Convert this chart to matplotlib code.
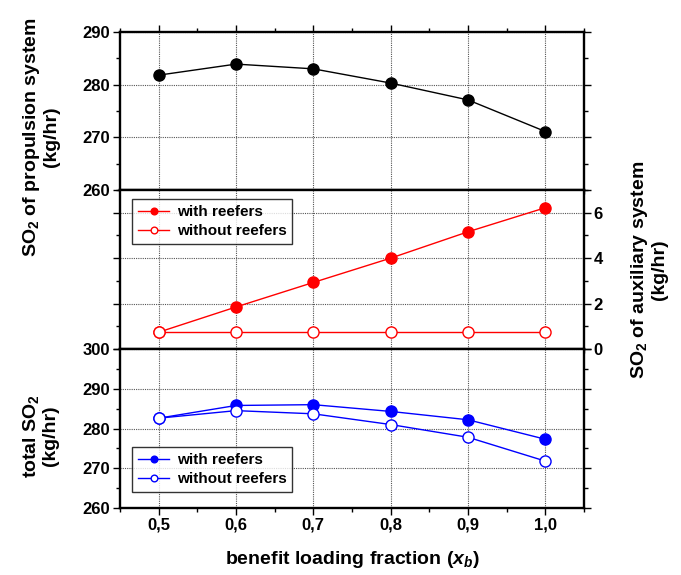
import matplotlib
matplotlib.use('Agg')
import matplotlib.pyplot as plt
from matplotlib.ticker import MultipleLocator

plt.rcParams['font.family'] = ['Liberation Sans', 'DejaVu Sans']
plt.rcParams['font.weight'] = 'bold'
plt.rcParams['mathtext.fontset'] = 'custom'
plt.rcParams['mathtext.rm'] = 'Liberation Sans:bold'
plt.rcParams['mathtext.it'] = 'Liberation Sans:bold:italic'
plt.rcParams['mathtext.bf'] = 'Liberation Sans:bold'

# data
xb = [0.5, 0.6, 0.7, 0.8, 0.9, 1.0]
xb_labels = ['0,5', '0,6', '0,7', '0,8', '0,9', '1,0']
so2_prop = [281.8, 283.9, 283.0, 280.3, 277.1, 271.1]
so2_aux_reef = [0.74, 1.85, 2.93, 4.0, 5.16, 6.22]
so2_aux_noreef = [0.74, 0.74, 0.74, 0.74, 0.74, 0.74]
so2_tot_reef = [282.6, 285.8, 286.0, 284.3, 282.2, 277.3]
so2_tot_noreef = [282.6, 284.5, 283.7, 281.0, 277.8, 271.8]

RED = '#ff0000'
BLUE = '#0000ff'


def style_axis(ax, ymaj, ymin):
    ax.set_xlim(0.45, 1.05)
    ax.set_xticks(xb)
    ax.xaxis.set_minor_locator(MultipleLocator(0.05))
    ax.yaxis.set_major_locator(MultipleLocator(ymaj))
    ax.yaxis.set_minor_locator(MultipleLocator(ymin))
    ax.grid(True, which='major', linestyle=(0, (1, 1)), color='#555555', linewidth=0.8)
    for s in ax.spines.values():
        s.set_linewidth(1.7)
    ax.tick_params(which='both', direction='out', labelsize=12, width=1.0, pad=2)
    ax.tick_params(which='major', length=5)
    ax.tick_params(which='minor', length=3)


def legend(ax, anchor):
    leg = ax.legend(loc='upper left', fontsize=11, fancybox=False, edgecolor='black',
                    handlelength=2.0, borderpad=0.4, labelspacing=0.3,
                    handletextpad=0.5, markerscale=0.6, bbox_to_anchor=anchor)
    leg.get_frame().set_linewidth(1.0)


fig = plt.figure(figsize=(6.81, 5.75), dpi=100)
ax1 = fig.add_axes([0.1762, 0.6696, 0.6814, 0.2748])
ax2 = fig.add_axes([0.1762, 0.3930, 0.6814, 0.2766])
ax3 = fig.add_axes([0.1762, 0.1165, 0.6814, 0.2765])

# propulsion
ax1.plot(xb, so2_prop, color='black', lw=1.0, marker='o', ms=8)
ax1.set_ylim(260, 290)
style_axis(ax1, 10, 5)
ax1.tick_params(which='both', labelbottom=False, top=True, right=True)

# auxiliary
ax2.plot(xb, so2_aux_reef, color=RED, lw=1.0, marker='o', ms=8, label='with reefers')
ax2.plot(xb, so2_aux_noreef, color=RED, lw=1.0, marker='o', ms=8, mfc='white',
         label='without reefers')
ax2.set_ylim(0, 7)
style_axis(ax2, 2, 1)
ax2.yaxis.tick_right()
ax2.tick_params(which='both', left=True, labelleft=False, labelbottom=False)
legend(ax2, (0.01, 0.99))

# total
ax3.plot(xb, so2_tot_reef, color=BLUE, lw=1.0, marker='o', ms=8, label='with reefers')
ax3.plot(xb, so2_tot_noreef, color=BLUE, lw=1.0, marker='o', ms=8, mfc='white',
         label='without reefers')
ax3.set_ylim(260, 300)
style_axis(ax3, 10, 5)
ax3.tick_params(which='both', right=True)
ax3.set_xticklabels(xb_labels)
ax3.set_xlabel(r'benefit loading fraction ($\mathit{x}_{\mathit{b}}$)', fontsize=14,
               fontweight='bold', labelpad=12)
legend(ax3, (0.01, 0.43))

fig.text(0.059, 0.762, 'SO$_{2}$ of propulsion system\n(kg/hr)', rotation=90,
         ha='center', va='center', fontsize=14, fontweight='bold', linespacing=1.1)
fig.text(0.952, 0.531, 'SO$_{2}$ of auxiliary system\n(kg/hr)', rotation=90,
         ha='center', va='center', fontsize=14, fontweight='bold', linespacing=1.1)
fig.text(0.059, 0.242, 'total SO$_{2}$\n(kg/hr)', rotation=90,
         ha='center', va='center', fontsize=14, fontweight='bold', linespacing=1.1)

plt.savefig('out.png', dpi=100)
